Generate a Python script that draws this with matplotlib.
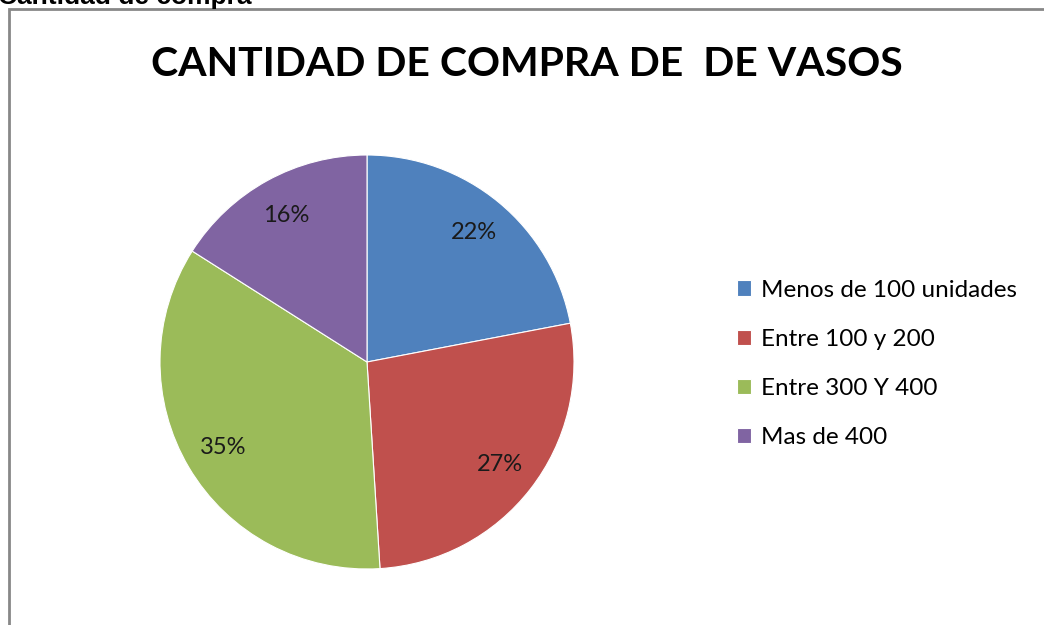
import matplotlib
matplotlib.use("Agg")
import matplotlib.pyplot as plt
from matplotlib.patches import Rectangle

categorias = ["Menos de 100 unidades", "Entre 100 y 200", "Entre 300 Y 400", "Mas de 400"]
porcentajes = [22, 27, 35, 16]
colores = ["#4F81BD", "#C0504D", "#9BBB59", "#8064A2"]

W, H = 1044, 625
fig = plt.figure(figsize=(W / 100, H / 100), dpi=100)
fig.patch.set_facecolor("white")

# chart border (runs off the right and bottom edges)
fig.patches.append(Rectangle((9 / W, -10 / H), 1.2, (H - 9 + 10) / H,
                             transform=fig.transFigure, fill=False,
                             edgecolor="#888888", linewidth=2))

fig.text(-2 / W, 1 - 4 / H, "Cantidad de compra", family="Liberation Sans",
         weight="bold", fontsize=19, va="baseline", ha="left")

fig.text(527 / W, 1 - 76 / H, "CANTIDAD DE COMPRA DE  DE VASOS", family="Lato",
         weight="bold", fontsize=29.5, va="baseline", ha="center")

cx, cy, r = 367, 362, 207
ax = fig.add_axes([(cx - r) / W, (H - cy - r) / H, 2 * r / W, 2 * r / H])
wedges, textos, pcts = ax.pie(porcentajes, colors=colores, startangle=90, counterclock=False,
                              autopct="%d%%", pctdistance=0.81, radius=1,
                              wedgeprops=dict(linewidth=0.8, edgecolor="white"),
                              textprops=dict(family="Lato", fontsize=17, color="#1a1a1a"))
ax.set_xlim(-1, 1)
ax.set_ylim(-1, 1)
ax.set_aspect("equal")
ax.axis("off")

fig.legend(wedges, categorias, loc="center left", bbox_to_anchor=(715 / W, 1 - 364 / H),
           frameon=False, prop=dict(family="Lato", size=17.5),
           handlelength=0.6, handleheight=0.6, handletextpad=0.4, labelspacing=1.16)

fig.savefig("out.png", dpi=100)
